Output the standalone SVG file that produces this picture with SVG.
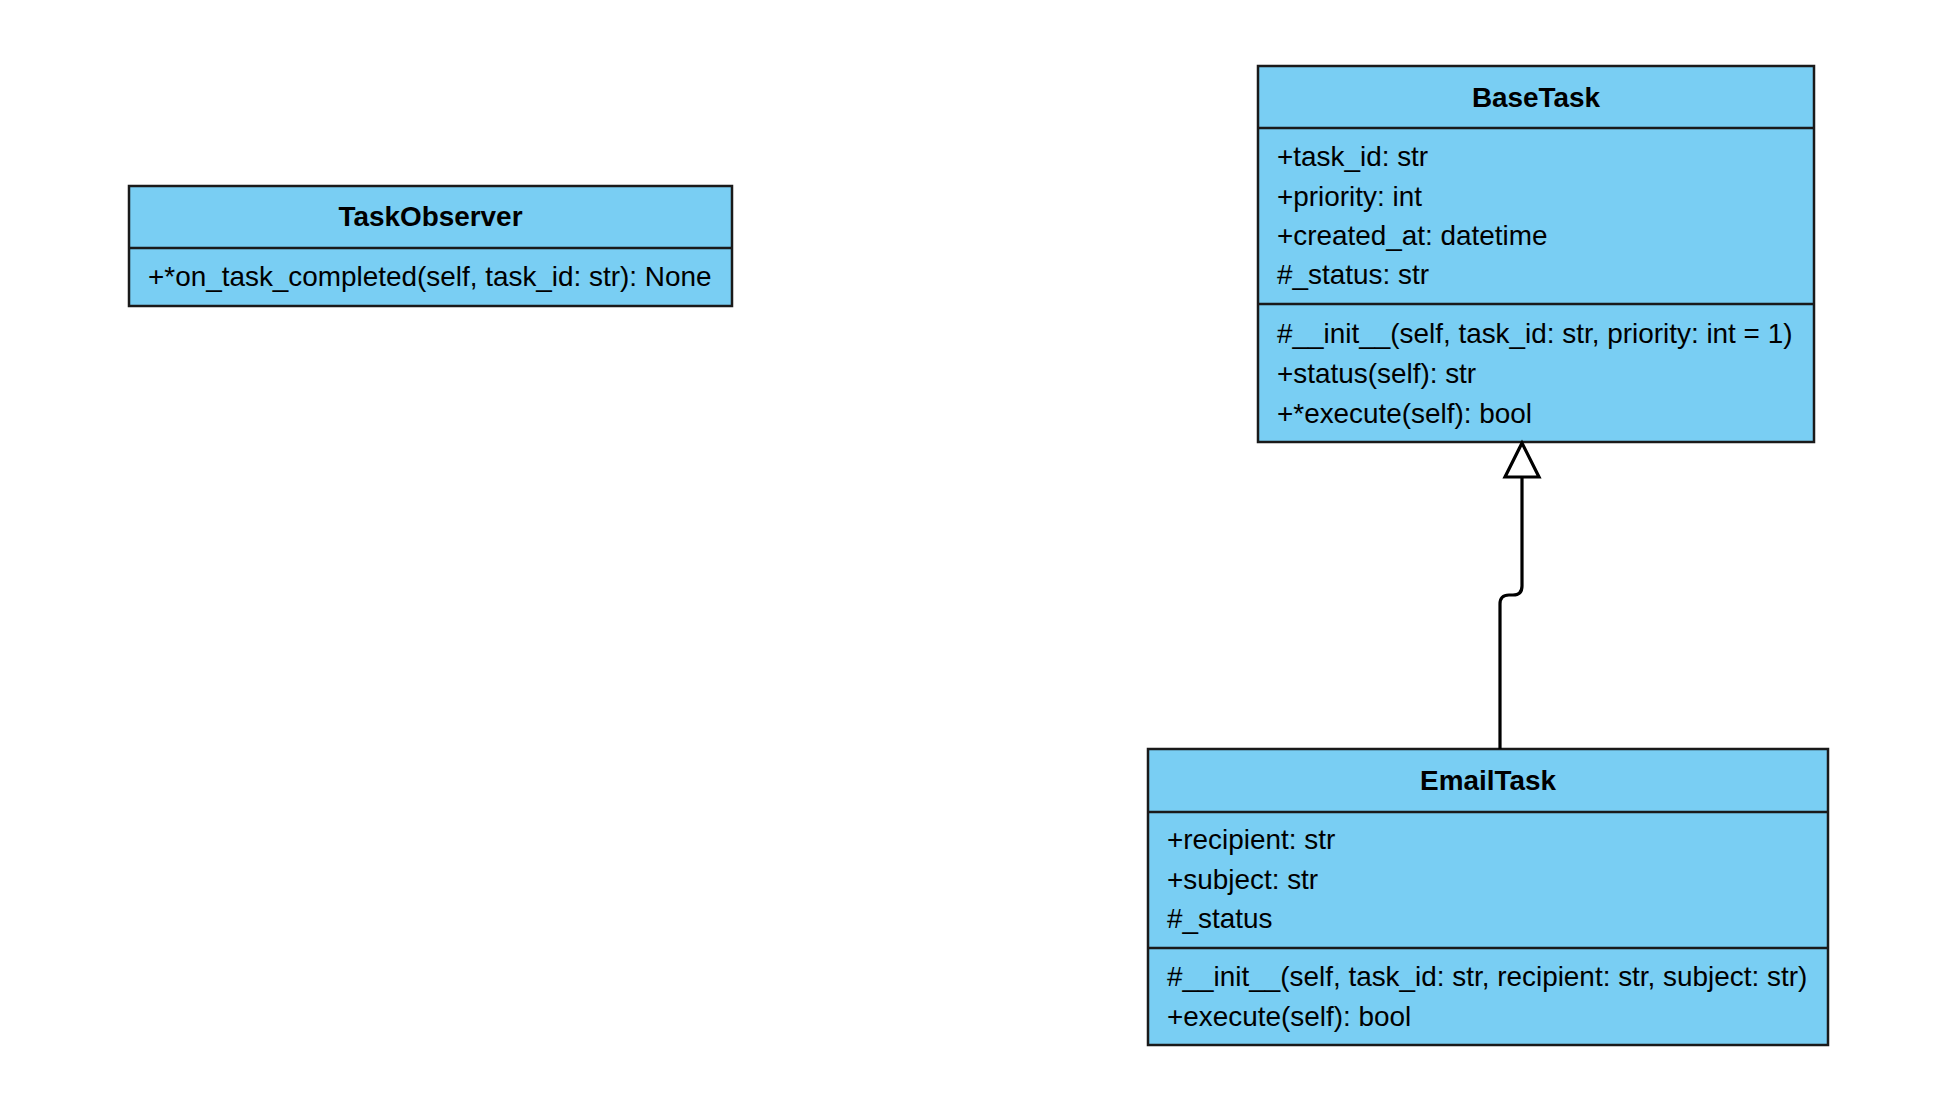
<svg xmlns="http://www.w3.org/2000/svg" width="1954" height="1104" viewBox="0 0 1954 1104">
<style>
.box{fill:#79CEF3;stroke:#1a1a1a;stroke-width:2.5}
.div{stroke:#1a1a1a;stroke-width:2.5}
.t{font-family:"Liberation Sans",Arial,Helvetica,sans-serif;font-size:27.9px;fill:#000}
.h{font-family:"Liberation Sans",Arial,Helvetica,sans-serif;font-size:27.9px;font-weight:bold;fill:#000;text-anchor:middle}
.edge{fill:none;stroke:#000;stroke-width:3.2}
</style>
<rect width="1954" height="1104" fill="#fff"/>
<g id="TaskObserver">
<rect class="box" x="129" y="186" width="603" height="120"/>
<line class="div" x1="129" y1="248" x2="732" y2="248"/>
<text class="h" x="430.5" y="226">TaskObserver</text>
<text class="t" x="148" y="286">+*on_task_completed(self, task_id: str): None</text>
</g>
<g id="BaseTask">
<rect class="box" x="1258" y="66" width="556" height="376"/>
<line class="div" x1="1258" y1="128" x2="1814" y2="128"/>
<line class="div" x1="1258" y1="304" x2="1814" y2="304"/>
<text class="h" x="1536" y="106.5">BaseTask</text>
<text class="t" x="1277" y="166">+task_id: str</text>
<text class="t" x="1277" y="205.5">+priority: int</text>
<text class="t" x="1277" y="245">+created_at: datetime</text>
<text class="t" x="1277" y="284">#_status: str</text>
<text class="t" x="1277" y="343">#__init__(self, task_id: str, priority: int = 1)</text>
<text class="t" x="1277" y="383">+status(self): str</text>
<text class="t" x="1277" y="423">+*execute(self): bool</text>
</g>
<g id="EmailTask">
<rect class="box" x="1148" y="749" width="680" height="296"/>
<line class="div" x1="1148" y1="812" x2="1828" y2="812"/>
<line class="div" x1="1148" y1="948" x2="1828" y2="948"/>
<text class="h" x="1488" y="789.5">EmailTask</text>
<text class="t" x="1167" y="849">+recipient: str</text>
<text class="t" x="1167" y="888.5">+subject: str</text>
<text class="t" x="1167" y="928">#_status</text>
<text class="t" x="1167" y="986">#__init__(self, task_id: str, recipient: str, subject: str)</text>
<text class="t" x="1167" y="1025.5">+execute(self): bool</text>
</g>
<g id="connectors">
<path class="edge" d="M1500 749 L1500 604 Q1500 595 1509 595 L1513 595 Q1522 595 1522 586 L1522 477"/>
<polygon points="1522,443 1505,477 1539,477" fill="#fff" stroke="#000" stroke-width="3.2" stroke-linejoin="miter"/>
</g>
</svg>
